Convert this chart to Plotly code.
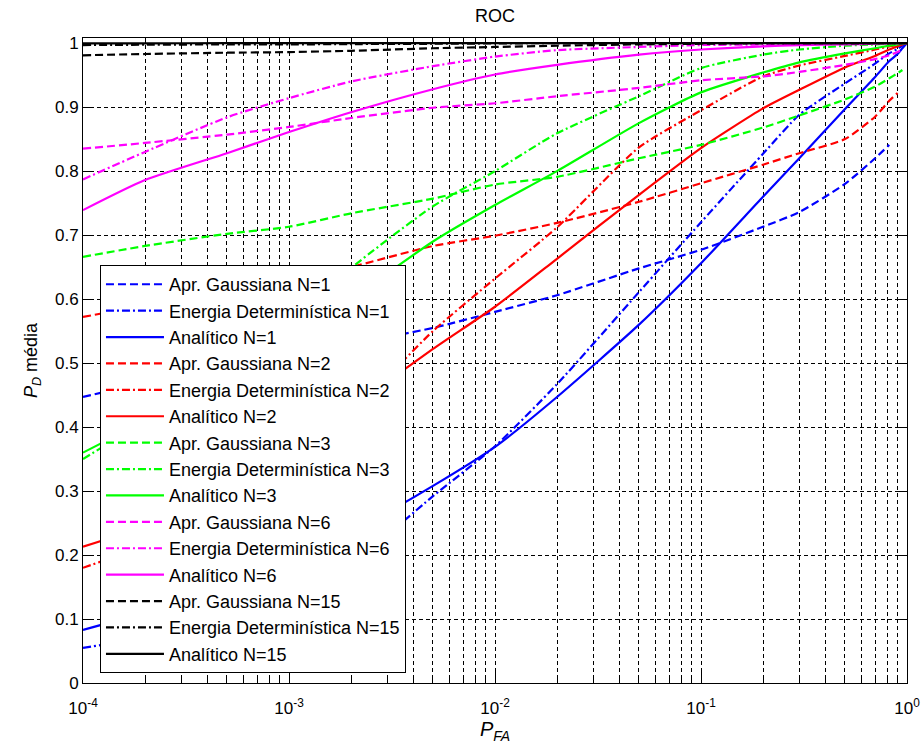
import plotly.graph_objects as go

# P_FA grid (x values)
pfa = [1e-4, 2e-4, 5e-4, 1e-3, 2e-3, 5e-3, 1e-2, 2e-2, 5e-2, 0.1, 0.2, 0.3, 0.5, 0.7, 0.82, 0.9, 0.95, 1.0]

# N = 1 (blue)
gauss_n1 = [0.447, 0.47, 0.50, 0.515, 0.53, 0.555, 0.58, 0.606, 0.648, 0.677, 0.713, 0.736, 0.78, 0.82, 0.841, None, None, None]
energ_n1 = [0.055, 0.07, 0.097, 0.13, 0.185, 0.292, 0.37, 0.467, 0.611, 0.72, 0.827, 0.888, 0.937, 0.968, 0.984, 0.991, 0.996, 1.0]
anal_n1 = [0.083, 0.11, 0.15, 0.185, 0.235, 0.308, 0.369, 0.447, 0.56, 0.656, 0.76, 0.82, 0.897, 0.947, 0.972, 0.983, 0.992, 1.0]
# N = 2 (red)
gauss_n2 = [0.572, 0.59, 0.612, 0.628, 0.65, 0.683, 0.699, 0.719, 0.752, 0.781, 0.81, 0.828, 0.85, 0.885, 0.91, 0.922, None, None]
energ_n2 = [0.18, 0.215, 0.275, 0.33, 0.42, 0.55, 0.632, 0.712, 0.837, 0.895, 0.948, 0.965, 0.98, 0.99, 0.995, 0.997, 0.999, 1.0]
anal_n2 = [0.213, 0.245, 0.30, 0.36, 0.43, 0.522, 0.588, 0.663, 0.763, 0.836, 0.898, 0.927, 0.962, 0.98, 0.99, 0.995, 0.998, 1.0]
# N = 3 (green)
gauss_n3 = [0.666, 0.683, 0.702, 0.713, 0.734, 0.757, 0.779, 0.791, 0.82, 0.841, 0.868, 0.887, 0.912, 0.932, 0.945, 0.953, 0.958, None]
energ_n3 = [0.35, 0.41, 0.49, 0.555, 0.648, 0.745, 0.80, 0.859, 0.917, 0.961, 0.982, 0.99, 0.996, 0.998, 0.999, 1.0, 1.0, 1.0]
anal_n3 = [0.36, 0.41, 0.48, 0.535, 0.60, 0.69, 0.747, 0.80, 0.875, 0.923, 0.954, 0.97, 0.984, 0.992, 0.996, 0.998, 0.999, 1.0]
# N = 6 (magenta)
gauss_n6 = [0.835, 0.844, 0.857, 0.869, 0.883, 0.899, 0.906, 0.917, 0.930, 0.942, 0.948, 0.955, 0.966, 0.975, 0.981, 0.986, 0.99, None]
energ_n6 = [0.787, 0.83, 0.884, 0.914, 0.94, 0.964, 0.979, 0.989, 0.994, 0.997, 0.998, 0.999, 0.999, 1.0, 1.0, 1.0, 1.0, 1.0]
anal_n6 = [0.739, 0.786, 0.828, 0.861, 0.892, 0.928, 0.951, 0.966, 0.982, 0.99, 0.995, 0.997, 0.998, 0.999, 1.0, 1.0, 1.0, 1.0]
# N = 15 (black)
gauss_n15 = [0.981, 0.983, 0.985, 0.986, 0.988, 0.992, 0.994, 0.996, 0.998, 0.999, 1.0, 1.0, 1.0, 1.0, 1.0, 1.0, 1.0, None]
energ_n15 = [0.997, 0.9975, 0.998, 0.998, 0.9985, 0.999, 0.9995, 1.0, 1.0, 1.0, 1.0, 1.0, 1.0, 1.0, 1.0, 1.0, 1.0, 1.0]
anal_n15 = [0.9995, 0.9997, 0.9999, 1.0, 1.0, 1.0, 1.0, 1.0, 1.0, 1.0, 1.0, 1.0, 1.0, 1.0, 1.0, 1.0, 1.0, 1.0]

n_values = ["1", "2", "3", "6", "15"]
colors = ["#0000FF", "#FF0000", "#00FF00", "#FF00FF", "#000000"]
series = [
    (gauss_n1, energ_n1, anal_n1),
    (gauss_n2, energ_n2, anal_n2),
    (gauss_n3, energ_n3, anal_n3),
    (gauss_n6, energ_n6, anal_n6),
    (gauss_n15, energ_n15, anal_n15),
]
kinds = ["Apr. Gaussiana", "Energia Determinística", "Analítico"]
dashes = ["8px,4px", "8px,3px,2px,3px", "solid"]

x_tickvals = [1e-4, 1e-3, 1e-2, 1e-1, 1]
x_ticktext = ["10<sup>-4</sup>", "10<sup>-3</sup>", "10<sup>-2</sup>", "10<sup>-1</sup>", "10<sup>0</sup>"]
x_minor = [k * 10.0 ** e for e in range(-4, 0) for k in range(2, 10)]
y_tickvals = [0, 0.1, 0.2, 0.3, 0.4, 0.5, 0.6, 0.7, 0.8, 0.9, 1]
y_ticktext = ["0", "0.1", "0.2", "0.3", "0.4", "0.5", "0.6", "0.7", "0.8", "0.9", "1"]

FONT = "Liberation Sans, Arial, sans-serif"

fig = go.Figure()
for n, col, trio in zip(n_values, colors, series):
    for kind, dash, vals in zip(kinds, dashes, trio):
        fig.add_trace(go.Scatter(
            x=pfa, y=vals, mode="lines", name=f"{kind} N={n}",
            line=dict(color=col, width=2.2, dash=dash, shape="spline", smoothing=0.6),
            connectgaps=False,
        ))

grid = dict(gridcolor="black", griddash="4px,3px", gridwidth=1)
fig.update_layout(
    width=922, height=751,
    margin=dict(l=83, r=15, t=38, b=68),
    paper_bgcolor="white", plot_bgcolor="white",
    font=dict(family=FONT, size=17, color="black"),
    title=dict(text="ROC", x=0.5, xref="paper", xanchor="center",
               y=1 - 16 / 751, yref="container", yanchor="middle",
               font=dict(size=18, color="black")),
    legend=dict(x=0.0206, y=0.648, xanchor="left", yanchor="top",
                bgcolor="white", bordercolor="black", borderwidth=1,
                font=dict(size=18, family=FONT, color="black"),
                itemwidth=58, tracegroupgap=0),
    showlegend=True,
)
fig.update_xaxes(
    type="log", range=[-4, 0], automargin=False,
    tickmode="array", tickvals=x_tickvals, ticktext=x_ticktext,
    ticks="inside", ticklen=11, tickcolor="black", ticklabelstandoff=10,
    showline=True, linecolor="black", linewidth=1, mirror="allticks",
    showgrid=True, **grid,
    minor=dict(tickmode="array", tickvals=x_minor, ticks="inside", ticklen=6,
               tickcolor="black", showgrid=True, gridcolor="black",
               griddash="4px,3px", gridwidth=1),
    title=dict(text="<i>P</i><sub><i>FA</i></sub>", standoff=2, font=dict(size=20)),
    zeroline=False,
)
fig.update_yaxes(
    range=[0, 1.008], automargin=False,
    tickmode="array", tickvals=y_tickvals, ticktext=y_ticktext,
    ticks="inside", ticklen=11, tickcolor="black",
    showline=True, linecolor="black", linewidth=1, mirror="allticks",
    showgrid=True, **grid,
    title=dict(text="<i>P</i><sub><i>D</i></sub> média", standoff=12, font=dict(size=18)),
    zeroline=False,
)
fig.write_html("out.html")
